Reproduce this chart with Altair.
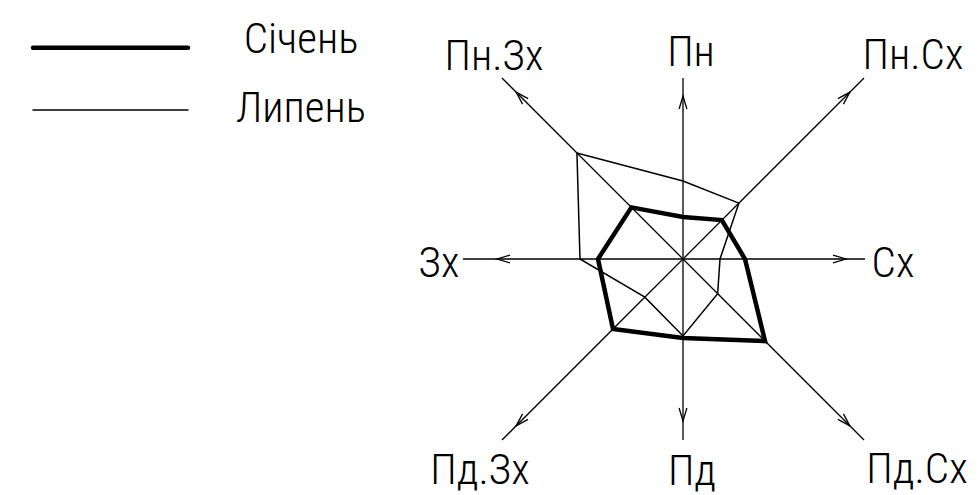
import altair as alt
import pandas as pd

# ---- data ----
directions = ["Пн", "Пн.Сх", "Сх", "Пд.Сх", "Пд", "Пд.Зх", "Зх", "Пн.Зх"]
bearings = [0, 45, 90, 135, 180, 225, 270, 315]
january = [42, 55, 62, 116, 79, 99, 85, 73]
july = [78, 79, 37, 49, 77, 54, 103, 150]
series_names = ["Січень", "Липень"]

# ---- layout (drawing units) ----
axis_length = [181, 256, 182, 256, 181, 256, 220, 256]
arrow_at = [163, 236, 163, 236, 162, 236, 186, 236]
label_dx = [8, 230, 210, 234, 9, -203, -244, -189]
label_dy = [193, 190, -18, -224, -226, -225, -18, 189]
line_widths = [4.5, 1.5]
legend_line_y = [39.7, 102]
legend_text_y = [45, 114]

FONT = "Roboto Condensed, Roboto, sans-serif"
FW = 300
FS = 43

W, H = 964, 487
CX, CY = 675, 251

rows = []
for s, vals in zip(series_names, [january, july]):
    for i, (d, b, v) in enumerate(zip(directions, bearings, vals)):
        rows.append({"series": s, "dir": d, "bearing": b, "value": v, "order": i})
poly_df = pd.DataFrame(rows)

dir_df = pd.DataFrame({
    "dir": directions, "bearing": bearings, "len": axis_length,
    "arrow": arrow_at, "ldx": label_dx, "ldy": label_dy,
})

xs = alt.Scale(domain=[-CX, W - CX], nice=False, zero=False)
ys = alt.Scale(domain=[CY - H, CY], nice=False, zero=False)

def X(f):
    return alt.X(f, type="quantitative", scale=xs, axis=None)

def Y(f):
    return alt.Y(f, type="quantitative", scale=ys, axis=None)

rad = "datum.bearing*PI/180"

axes = alt.Chart(dir_df).transform_calculate(
    x0="0", y0="0",
    ex=f"datum.len*sin({rad})", ey=f"datum.len*cos({rad})",
).mark_rule(color="black", strokeWidth=1.3).encode(
    x=X("x0"), y=Y("y0"), x2="ex:Q", y2="ey:Q"
)

arrows = alt.Chart(dir_df).transform_calculate(
    ax=f"datum.arrow*sin({rad})", ay=f"datum.arrow*cos({rad})",
).mark_point(
    shape="M -0.3 1 L 0 0 L 0.3 1", filled=False, color="black",
    strokeWidth=1.3, size=676, opacity=1,
).encode(
    x=X("ax"), y=Y("ay"), angle=alt.Angle("bearing:Q", scale=None)
)

polys = alt.Chart(poly_df).transform_calculate(
    px=f"datum.value*sin({rad})", py=f"datum.value*cos({rad})",
).mark_line(interpolate="linear-closed", color="black", strokeJoin="miter").encode(
    x=X("px"), y=Y("py"),
    order="order:Q",
    detail="series:N",
    strokeWidth=alt.StrokeWidth(
        "series:N", scale=alt.Scale(domain=series_names, range=line_widths), legend=None
    ),
)

labels = alt.Chart(dir_df).mark_text(
    font=FONT, fontWeight=FW, fontSize=FS, align="center", baseline="alphabetic", color="black"
).encode(x=X("ldx"), y=Y("ldy"), text="dir:N")

layers = [axes, arrows, polys, labels]

for name, lw, ly, ty in zip(series_names, line_widths, legend_line_y, legend_text_y):
    ldf = pd.DataFrame({"series": [name]})
    layers.append(
        alt.Chart(ldf).mark_rule(color="black", strokeCap="round", strokeWidth=lw).encode(
            x=alt.value(25), x2=alt.value(180), y=alt.value(ly)
        )
    )
    layers.append(
        alt.Chart(ldf).mark_text(
            font=FONT, fontWeight=FW, fontSize=FS, align="center", baseline="alphabetic", color="black"
        ).encode(x=alt.value(293), y=alt.value(ty), text="series:N")
    )

chart = alt.layer(*layers).properties(
    width=W, height=H, padding=0, autosize=alt.AutoSizeParams(type="none"),
    background="white",
).configure_view(stroke=None)

chart.save("out.html", embed_options={"renderer": "svg", "actions": False})
